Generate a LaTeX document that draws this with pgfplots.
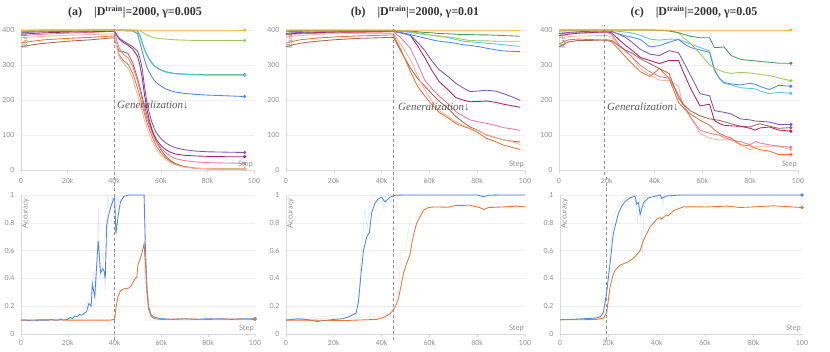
\documentclass[border=0pt]{standalone}
\usepackage{fontspec}
\setmainfont{Liberation Serif}
\newfontfamily\tickfont{Lato}
\usepackage{pgfplots}
\pgfplotsset{compat=1.18}
\usepackage{pgfplotstable}

% run colours
\definecolor{cY}{HTML}{EDB732}
\definecolor{cLG}{HTML}{A0C75C}
\definecolor{cG}{HTML}{479A5F}
\definecolor{cC}{HTML}{5BC5DB}
\definecolor{cB}{HTML}{5387DD}
\definecolor{cP}{HTML}{7D54B2}
\definecolor{cM}{HTML}{A12864}
\definecolor{cPK}{HTML}{E87B9F}
\definecolor{cPE}{HTML}{F0B899}
\definecolor{cO}{HTML}{E57439}
\definecolor{cBR}{HTML}{A46750}
\definecolor{lgray}{HTML}{DADADA}
\definecolor{ggray}{HTML}{EFEFEF}
\definecolor{tgray}{HTML}{8E8E8E}

\pgfplotsset{
  wb/.style={scale only axis, clip=false,
    xmin=0, xmax=100, xtick={0,20,40,60,80,100},
    xticklabels={0,20k,40k,60k,80k,100},
    axis x line*=bottom, axis y line*=left,
    axis line style={draw=lgray, line width=0.6pt},
    x tick style={draw=lgray, line width=0.6pt}, major tick length=3pt, tick align=outside,
    y tick style={draw=none},
    ymajorgrids, grid style={draw=ggray, line width=0.5pt},
    tick label style={font=\tickfont\fontsize{7}{8}\selectfont, text=tgray},
    /pgf/number format/assume math mode=true,
    every axis plot/.append style={line width=0.85pt, mark=none},
  },
  rk/.style={wb, height=140pt, ymin=0, ymax=400, ytick={0,100,200,300,400},
    xticklabel style={yshift=-2pt}},
  ac/.style={wb, height=139pt, ymin=0, ymax=1, ytick={0,0.2,0.4,0.6,0.8,1}},
}
\tikzset{
  enddot/.style={circle, fill=#1, inner sep=0pt, minimum size=3.6pt},
  lbl/.style={font=\tickfont\fontsize{7.5}{8}\selectfont, text=tgray, inner sep=1pt},
  dashln/.style={draw=tgray, dashed, dash pattern=on 3pt off 2.5pt, line width=0.6pt},
  gen/.style={font=\itshape\fontsize{11}{12}\selectfont, text=black!65, inner sep=0pt},
  ttl/.style={font=\bfseries\fontsize{12}{14}\selectfont, text=black!80},
  raw/.style={line width=0.5pt, opacity=0.2},
}
\newcommand{\serie}[2]{\addplot[c#1] table[x=x,y=#1]{#2} node[pos=1, enddot=c#1]{};}
\newcommand{\serieb}[2]{\addplot[c#1] table[x=x,y=#1]{#2};}

% rank of the 11 runs, gamma=0.005
\pgfplotstableread{
x  Y   LG  G   C   B   P   M   PK  PE  O   BR
0  400 400 398 396 395 392 388 384 378 363 352
5  400 400 399 397 396 394 390 386 380 368 358
10 400 400 400 398 397 395 392 388 382 372 362
20 400 400 400 398 398 396 394 391 385 376 368
30 400 400 400 399 399 397 395 393 387 379 372
40 400 400 400 399 399 398 397 396 389 383 378
42 400 400 400 399 398 378 375 350 325 330 340
44 400 400 400 399 398 368 364 330 305 312 338
46 400 400 400 398 397 360 356 320 290 302 332
48 400 400 399 398 397 352 345 295 260 275 305
50 400 400 398 397 390 340 325 255 215 235 262
51 400 398 385 383 365 320 300 230 190 210 238
52 400 394 365 362 340 290 265 200 165 185 210
53 400 390 345 343 315 240 215 172 142 160 182
54 400 386 330 328 295 195 175 148 122 138 158
55 400 383 318 316 280 165 145 128 103 118 135
56 400 380 308 306 268 140 120 110 87  100 115
57 400 378 300 299 258 122 102 95  73  85  98
58 400 377 294 293 250 108 88  82  60  70  82
60 400 375 286 285 240 90  70  63  42  50  58
62 400 374 281 280 232 78  59  50  30  35  40
64 400 373 278 277 227 70  51  40  21  25  28
66 400 372 276 275 223 64  46  33  15  17  19
70 400 371 274 273 219 58  42  27  8   9   10
75 400 370 273 272 216 54  40  23  5   5   5
80 400 370 272 271 214 52  39  21  4   4   3
88 400 370 272 271 212 51  38  20  3   3   3
96 400 370 272 271 210 50  38  19  3   3   3
}\tA

% gamma=0.01
\pgfplotstableread{
x  Y   LG  G   C   B   P   M   PK  PE  O   BR
0  400 400 399 398 395 390 388 386 380 362 352
3  400 400 399 398 396 392 390 388 382 368 358
6  400 400 399 398 396 393 391 389 384 372 362
10 400 400 399 398 397 394 392 390 386 375 366
15 400 400 399 398 397 395 393 391 388 378 369
20 400 400 399 398 397 395 394 392 389 380 372
30 400 400 399 398 397 396 395 393 390 383 376
40 400 400 399 398 397 397 396 394 390 385 378
45 400 400 399 398 396 397 396 395 390 386 379
48 400 398 398 396 392 393 392 378 360 345 340
52 400 395 397 393 387 386 385 348 315 282 292
55 400 392 395 390 382 365 355 305 270 240 262
58 400 389 393 387 377 342 322 257 230 212 240
61 400 385 392 385 372 312 285 233 198 187 218
64 400 382 390 383 368 287 253 212 170 165 197
68 400 380 389 378 365 266 228 188 152 148 175
71 400 377 388 373 362 248 207 167 138 133 153
74 400 373 387 368 358 235 200 155 128 125 137
77 400 370 387 366 356 224 195 143 120 118 123
81 400 369 386 364 352 226 196 137 110 104 111
84 400 369 386 362 348 228 197 133 101 90  100
88 400 368 385 360 343 225 193 127 93  80  92
91 400 368 384 358 340 218 188 121 86  71  86
95 400 368 383 355 339 208 183 117 80  64  82
98 400 368 382 353 338 199 179 113 73  58  80
}\tB

% gamma=0.05
\pgfplotstableread{
x  Y   LG  G   C   B   P   M   PK  PE  O   BR
0  400 400 400 398 397 390 384 390 378 360 352
4  400 400 400 398 398 393 388 391 381 372 366
8  400 400 400 399 398 395 391 392 383 374 370
12 400 400 400 399 398 396 392 392 383 373 370
16 400 400 400 399 398 397 394 393 384 372 371
20 400 400 400 399 398 398 395 393 384 370 372
22 400 400 400 398 396 396 392 388 380 366 370
25 400 400 400 396 388 388 373 359 355 345 355
28 400 400 400 394 383 378 355 340 338 322 342
30 400 400 400 392 380 368 345 327 327 308 336
34 400 400 400 385 373 345 322 299 290 281 318
38 400 400 400 374 352 331 313 281 271 267 304
42 400 400 399 371 355 327 304 267 257 290 290
46 400 400 397 374 365 341 313 262 255 262 276
50 400 392 392 373 373 335 313 215 240 193 206
52 400 378 388 368 362 310 280 188 179 178 188
55 400 362 382 360 350 271 234 151 150 160 169
59 400 333 378 350 343 218 183 114 105 142 155
63 400 300 378 340 336 212 188 105 91  128 146
65 400 292 350 290 285 170 142 102 88  115 144
67 400 285 350 262 263 167 133 100 86  105 142
69 400 280 352 248 250 165 128 93  86  98  138
72 400 276 327 243 246 160 126 86  86  91  132
76 400 279 316 235 243 146 125 81  72  72  125
80 400 277 313 233 248 143 119 72  58  69  123
82 400 275 312 232 245 140 114 81  68  63  128
84 400 273 310 226 239 139 120 77  68  58  132
88 400 270 308 218 230 137 123 72  68  54  125
92 400 263 305 222 242 130 114 68  68  44  119
97 400 255 305 219 239 130 111 65  58  44  121
}\tC

\begin{document}
\begin{tikzpicture}
\useasboundingbox (0,0) rectangle (830pt,352pt);

% ---------- top row: rank ----------
\begin{axis}[rk, width=233pt, at={(21pt,182pt)}, anchor=south west]
\serie{BR}{\tA}\serie{O}{\tA}\serie{PE}{\tA}\serie{PK}{\tA}\serie{M}{\tA}\serie{P}{\tA}
\serie{B}{\tA}\serie{G}{\tA}\serie{C}{\tA}\serie{LG}{\tA}\serie{Y}{\tA}
\draw[dashln] (axis cs:40,-14) -- (axis cs:40,414);
\node[lbl, rotate=90, anchor=north east, xshift=2pt] at (rel axis cs:0,0.98) {Rank};
\node[lbl, anchor=south east, yshift=1pt] at (rel axis cs:1,0) {Step};
\end{axis}

\begin{axis}[rk, width=239pt, at={(286pt,182pt)}, anchor=south west]
\serieb{BR}{\tB}\serieb{O}{\tB}\serieb{PE}{\tB}\serieb{PK}{\tB}\serieb{M}{\tB}\serieb{P}{\tB}
\serieb{B}{\tB}\serieb{C}{\tB}\serieb{LG}{\tB}\serieb{G}{\tB}\serieb{Y}{\tB}
\draw[dashln] (axis cs:45,-14) -- (axis cs:45,414);
\node[lbl, rotate=90, anchor=north east, xshift=2pt] at (rel axis cs:0,0.98) {Rank};
\node[lbl, anchor=south east, yshift=1pt] at (rel axis cs:1,0) {Step};
\end{axis}

\begin{axis}[rk, width=239pt, at={(559pt,182pt)}, anchor=south west]
\serie{PE}{\tC}\serie{PK}{\tC}\serie{O}{\tC}\serie{BR}{\tC}\serie{M}{\tC}\serie{P}{\tC}
\serie{C}{\tC}\serie{B}{\tC}\serie{LG}{\tC}\serie{G}{\tC}\serie{Y}{\tC}
\draw[dashln] (axis cs:19,-14) -- (axis cs:19,414);
\node[lbl, rotate=90, anchor=north east, xshift=2pt] at (rel axis cs:0,0.98) {Rank};
\node[lbl, anchor=south east, yshift=1pt] at (rel axis cs:1,0) {Step};
\end{axis}

% ---------- bottom row: accuracy ----------
\begin{axis}[ac, width=234pt, at={(21pt,18pt)}, anchor=south west]
\addplot[cB, raw] coordinates {(0,0.1) (20,0.11) (25,0.13) (28,0.2) (30,0.3) (31,0.45) (32,0.25) (33,0.9)
  (33.5,0.5) (34,0.4) (35,0.6) (36,0.32) (37,1.0) (38,0.9) (39,1.0) (40,0.7) (41,1.0) (42,0.95) (44,1.0)
  (52.6,1.0) (53,0.1) (56,0.1) (100,0.1)};
\addplot[cB] coordinates {(0,0.10) (2,0.10) (4,0.095) (6,0.095) (8,0.1) (10,0.1) (12,0.1) (13,0.105) (14,0.1)
  (16,0.1) (17,0.108) (18,0.1) (20,0.105) (21,0.12) (22,0.11) (23,0.13) (24,0.125) (25,0.14) (26,0.135)
  (27,0.15) (28,0.16) (29,0.22) (30,0.2) (30.5,0.36) (31.5,0.27) (33,0.67) (34,0.44) (35,0.47) (35.5,0.45)
  (36,0.4) (36.6,0.78) (37.5,0.86) (38.5,0.92) (39.5,0.97) (40,0.98) (40.6,0.72) (41.5,0.85) (42.5,0.95)
  (44,0.99) (46,1.0) (52.6,1.0) (53.2,0.6) (53.8,0.35) (54.5,0.2) (55.5,0.14) (57,0.12) (60,0.11)
  (65,0.105) (70,0.11) (75,0.105) (80,0.11) (85,0.11) (90,0.105) (95,0.11) (100,0.11)}
  node[pos=1, enddot=cB]{};
\addplot[cO] coordinates {(0,0.1) (10,0.102) (20,0.1) (30,0.1) (38,0.1) (40,0.105) (40.7,0.2) (41.5,0.27)
  (42.5,0.31) (44,0.325) (46,0.33) (47,0.345) (48.5,0.39) (49.5,0.41) (50,0.5) (51.5,0.57) (52.6,0.65)
  (53.2,0.5) (53.8,0.3) (54.5,0.18) (55.5,0.13) (57,0.11) (60,0.105) (70,0.108) (80,0.105) (90,0.108)
  (100,0.105)} node[pos=1, enddot=cO]{};
\draw[dashln] (axis cs:40,-0.04) -- (axis cs:40,1.14);
\node[lbl, rotate=90, anchor=north east, xshift=2pt] at (rel axis cs:0,0.97) {Accuracy};
\node[lbl, anchor=south east, yshift=1pt] at (rel axis cs:1,0) {Step};
\end{axis}

\begin{axis}[ac, width=239pt, at={(286pt,18pt)}, anchor=south west]
\addplot[cB, raw] coordinates {(0,0.1) (30,0.15) (32,0.7) (33,0.9) (34,0.75) (35,0.95) (36,1.0) (40,1.0)
  (41,0.9) (42,1.0) (100,1.0)};
\addplot[cO, raw] coordinates {(0,0.1) (44,0.13) (47,0.3) (48,0.58) (50,0.6) (52,0.84) (56,0.84) (57,0.92)
  (100,0.92)};
\addplot[cB] coordinates {(0,0.1) (3,0.105) (5,0.11) (8,0.105) (10,0.1) (13,0.09) (15,0.095) (18,0.1)
  (20,0.105) (24,0.11) (27,0.13) (29.3,0.15) (30.3,0.23) (31.5,0.45) (32.4,0.6) (33.8,0.7) (34.9,0.73)
  (35.8,0.87) (37.2,0.94) (38.5,0.97) (40,0.985) (41.4,0.95) (43.5,0.985) (45.6,0.998) (50,1.0) (60,1.0)
  (70,1.0) (80,1.0) (82.6,0.988) (85,0.998) (90,1.0) (100,1.0)};
\addplot[cO] coordinates {(0,0.1) (10,0.1) (20,0.098) (25,0.097) (30,0.1) (38,0.105) (41,0.12) (43.5,0.145)
  (45.6,0.19) (47,0.25) (48.4,0.37) (49.2,0.44) (50.5,0.51) (51.9,0.57) (52.6,0.65) (53.6,0.73) (54.7,0.8)
  (56,0.84) (57.5,0.89) (59.6,0.91) (62,0.914) (68,0.912) (71,0.925) (77,0.926) (81,0.91) (82.8,0.895)
  (84.7,0.91) (91,0.914) (96.5,0.92) (100,0.914)};
\draw[dashln] (axis cs:45,-0.04) -- (axis cs:45,1.14);
\node[lbl, rotate=90, anchor=north east, xshift=2pt] at (rel axis cs:0,0.97) {Accuracy};
\node[lbl, anchor=south east, yshift=1pt] at (rel axis cs:1,0) {Step};
\end{axis}

\begin{axis}[ac, width=242pt, at={(560pt,18pt)}, anchor=south west]
\addplot[cB, raw] coordinates {(0,0.1) (18,0.12) (20,0.45) (22,0.85) (26,0.97) (31,1.0) (32,0.8) (33,1.0)
  (34,0.55) (35,1.0) (42,1.0) (42.5,0.92) (43,1.0) (100,1.0)};
\addplot[cB] coordinates {(0,0.103) (5,0.105) (10,0.11) (12.4,0.112) (15,0.115) (16.6,0.123) (17.9,0.155)
  (19.3,0.3) (20.7,0.51) (22,0.72) (24,0.86) (25.5,0.92) (27,0.955) (29,0.98) (31,0.992) (31.7,0.935)
  (32.4,0.946) (33.1,0.86) (34.5,0.945) (36.6,0.98) (41.4,1.0) (42,0.976) (44,0.993) (50,1.0) (100,1.0)}
  node[pos=1, enddot=cB]{};
\addplot[cO] coordinates {(0,0.102) (10,0.103) (15,0.105) (17.9,0.113) (19.3,0.155) (20.7,0.34) (22,0.43)
  (22.8,0.46) (24.8,0.495) (28.3,0.52) (31,0.555) (33.1,0.6) (34.5,0.675) (37.2,0.77) (40,0.826)
  (41.4,0.838) (42,0.826) (43.4,0.85) (44.8,0.852) (46.9,0.887) (51,0.915) (60.7,0.914) (69,0.92)
  (74.5,0.91) (82.8,0.917) (88.3,0.922) (100,0.91)} node[pos=1, enddot=cO]{};
\draw[dashln] (axis cs:19,-0.04) -- (axis cs:19,1.14);
\node[lbl, rotate=90, anchor=north east, xshift=2pt] at (rel axis cs:0,0.97) {Accuracy};
\node[lbl, anchor=south east, yshift=1pt] at (rel axis cs:1,0) {Step};
\end{axis}

% ---------- titles and annotations ----------
\node[ttl] at (135pt,340pt) {(a)\hspace{1em}|D\textsuperscript{train}|=2000, γ=0.005};
\node[ttl] at (415pt,340pt) {(b)\hspace{1em}|D\textsuperscript{train}|=2000, γ=0.01};
\node[ttl] at (694pt,340pt) {(c)\hspace{1em}|D\textsuperscript{train}|=2000, γ=0.05};
\node[gen, anchor=west] at (117pt,247pt) {Generalization↓};
\node[gen, anchor=west] at (398pt,245pt) {Generalization↓};
\node[gen, anchor=west] at (607pt,245pt) {Generalization↓};
\end{tikzpicture}
\end{document}
